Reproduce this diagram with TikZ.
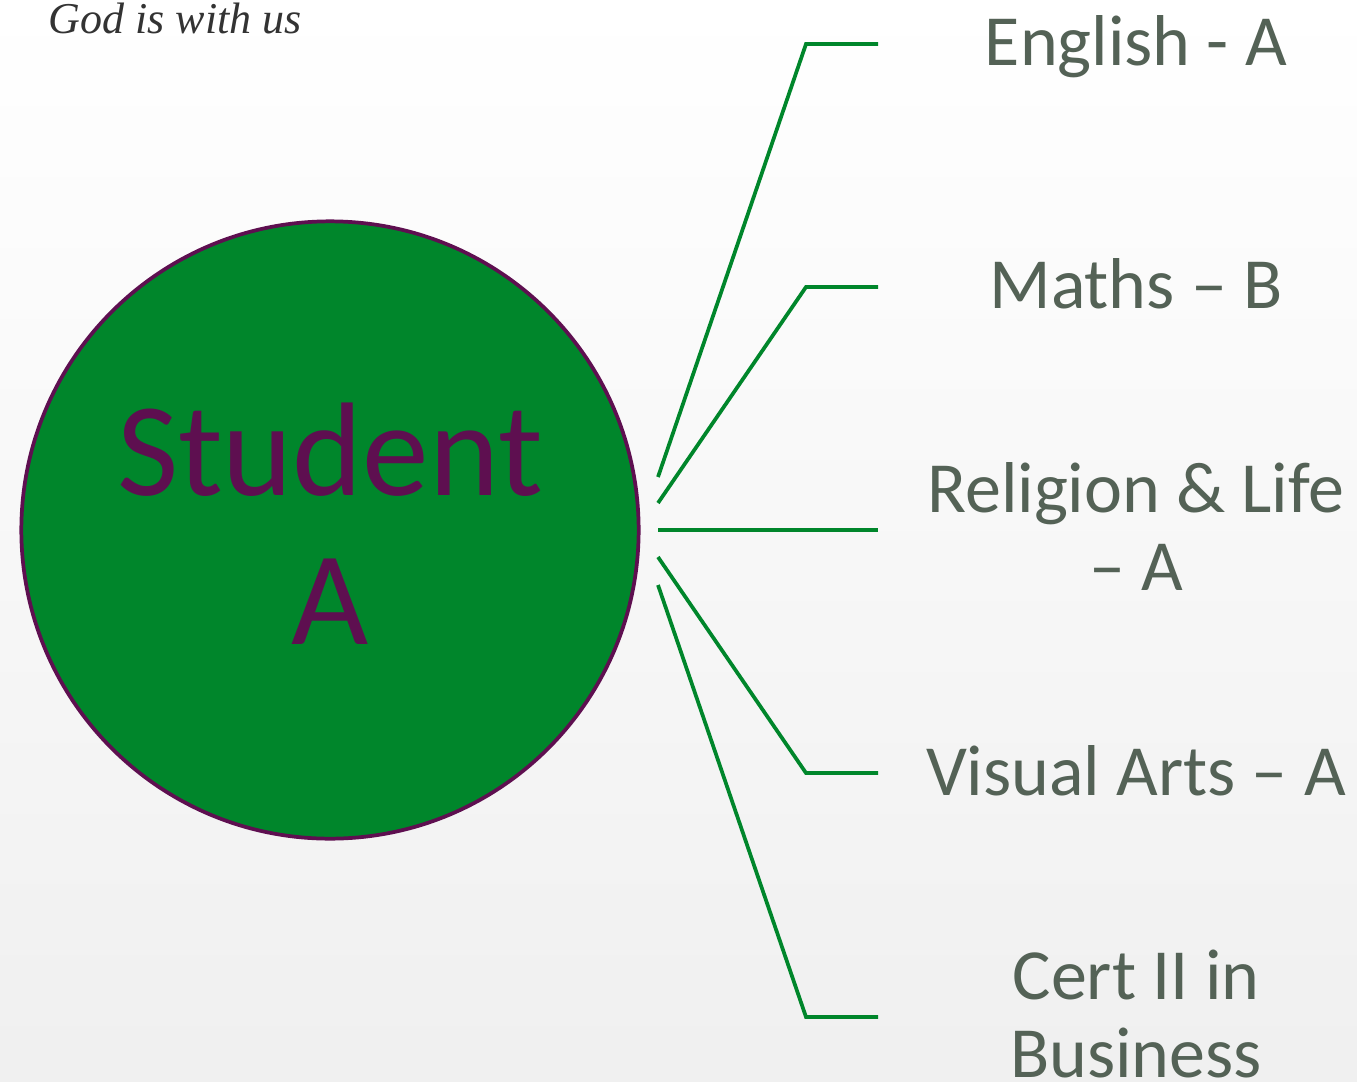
\documentclass[tikz,border=0pt]{standalone}
\usepackage{fontspec}
\setmainfont{Carlito}
\newfontfamily\mottofont{Liberation Serif}
\usetikzlibrary{positioning}
\definecolor{circlegreen}{RGB}{0,134,43}
\definecolor{plum}{RGB}{94,15,80}
\definecolor{labelgrey}{RGB}{84,98,86}

\begin{document}
\begin{tikzpicture}[x=0.75pt, y=-0.75pt]
        \tikzstyle{grade}=[text=labelgrey, align=center, anchor=base, font=\fontsize{54}{58}\selectfont];
        \tikzstyle{branch}=[draw=circlegreen, line width=2.8pt];
        \useasboundingbox (0,0) rectangle (1357,1082);
        \shade[top color=white, bottom color=black!6] (0,0) rectangle (1357,1082);

        \node[text=black!80, anchor=base west, font=\mottofont\itshape\fontsize{33}{33}\selectfont] (motto) at (44,33) {God is with us};
        \node[circle, draw=plum, line width=2.8pt, fill=circlegreen, minimum size=463pt, inner sep=0pt] (student) at (330,530) {};
        \node[text=plum, align=center, font=\fontsize{100}{112}\selectfont] (studentname) at (330,524) {Student\\A};

        \node[grade] (eng) at (1136,65) {English - A};
        \node[grade] (maths) at (1136,308) {Maths -- B};
        \node[grade] (rel) at (1136,590) {Religion \& Life\\-- A};
        \node[grade] (vis) at (1136,795) {Visual Arts -- A};
        \node[grade] (cert) at (1136,1077) {Cert II in\\Business};

        \coordinate (eng-s) at (658,477);
        \coordinate (eng-k) at (806,44);
        \coordinate (eng-e) at (878,44);
        \coordinate (maths-s) at (658,503);
        \coordinate (maths-k) at (806,287);
        \coordinate (maths-e) at (878,287);
        \coordinate (rel-s) at (658,530);
        \coordinate (rel-e) at (878,530);
        \coordinate (vis-s) at (658,557);
        \coordinate (vis-k) at (806,773);
        \coordinate (vis-e) at (878,773);
        \coordinate (cert-s) at (658,585);
        \coordinate (cert-k) at (806,1017);
        \coordinate (cert-e) at (878,1017);

        \draw[branch] (eng-s) -- (eng-k) -- (eng-e);
        \draw[branch] (maths-s) -- (maths-k) -- (maths-e);
        \draw[branch] (rel-s) -- (rel-e);
        \draw[branch] (vis-s) -- (vis-k) -- (vis-e);
        \draw[branch] (cert-s) -- (cert-k) -- (cert-e);
      \end{tikzpicture}
\end{document}
